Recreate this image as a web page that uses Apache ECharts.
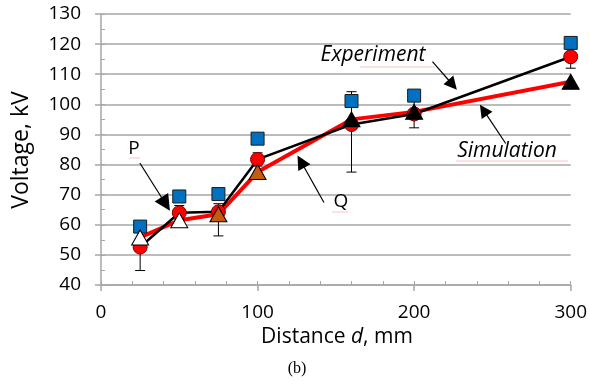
<!DOCTYPE html>
<html><head><meta charset="utf-8">
<script src="https://cdn.jsdelivr.net/npm/echarts@6/dist/echarts.min.js"></script>
<style>html,body{margin:0;padding:0;background:#fff}#c{width:590px;height:385px}</style>
</head><body><div id="c"></div>
<script>
// ---- data ----
const distances = [25, 50, 75, 100, 160, 200, 300];
const experiment = [52.6, 64.0, 64.3, 81.7, 93.3, 96.8, 115.8];
const errLow = [44.8, 61.8, 56.3, 79.5, 77.5, 92.2, 112.0];
const errHigh = [60.4, 66.4, 67.0, 83.9, 104.2, 101.0, 119.5];
const squares = [59.4, 69.4, 70.2, 88.6, 101.1, 102.9, 120.4];
const simulation = [55.8, 61.5, 63.5, 77.5, 95.0, 97.5, 107.5];
const triangleKinds = ['white', 'white', 'brown', 'brown', 'black', 'black', 'black'];
const xTickValues = [0, 100, 200, 300];
const yTickValues = [40, 50, 60, 70, 80, 90, 100, 110, 120, 130];

// ---- styles ----
const FONT = '"Open Sans", "Liberation Sans", sans-serif';
const GRIDC = '#a6a6a6';
const triColor = { white: '#ffffff', brown: '#c55a11', black: '#000000' };

const xMin = xTickValues[0], xMax = xTickValues[xTickValues.length - 1];
const yMin = yTickValues[0], yMax = yTickValues[yTickValues.length - 1];
const xStep = xTickValues[1] - xTickValues[0], yStep = yTickValues[1] - yTickValues[0];

const pts = arr => distances.map((d, i) => [d, arr[i]]);

// annotation arrows in data coordinates [start, end]
const arrows = [
  { from: [211.7, 114.2], to: [224.6, 106.5], size: 13 },
  { from: [258.5, 87.0], to: [244.3, 98.1], size: 13 },
  { from: [24.8, 80.5], to: [41.3, 66.9], size: 16 },
  { from: [142.4, 67.4], to: [127.7, 81.0], size: 14 }
];

const chart = echarts.init(document.getElementById('c'), null, { renderer: 'canvas' });

const grid = { left: 101, right: 17, top: 14, bottom: 100 };

const option = {
  animation: false,
  backgroundColor: '#ffffff',
  grid: grid,
  xAxis: [
    {
      type: 'value', min: xMin, max: xMax, interval: xStep,
      axisLine: { show: true, lineStyle: { color: GRIDC, width: 1.5 } },
      axisTick: { show: true, inside: false, length: 6, lineStyle: { color: GRIDC, width: 1.5 } },
      axisLabel: { color: '#000', fontFamily: FONT, fontSize: 19, margin: 18 },
      splitLine: { show: false }
    },
    {
      type: 'value', min: xMin, max: xMax, interval: 20, position: 'bottom',
      axisLine: { show: false },
      axisTick: { show: true, inside: true, length: 4, lineStyle: { color: GRIDC, width: 1 } },
      axisLabel: { show: false },
      splitLine: { show: false }
    }
  ],
  yAxis: [
    {
      type: 'value', min: yMin, max: yMax, interval: yStep,
      axisLine: { show: true, lineStyle: { color: GRIDC, width: 1.5 } },
      axisTick: { show: true, inside: false, length: 6, lineStyle: { color: GRIDC, width: 1.5 } },
      axisLabel: { color: '#000', fontFamily: FONT, fontSize: 19, margin: 20 },
      splitLine: { show: true, lineStyle: { color: GRIDC, width: 1.5 } }
    },
    {
      type: 'value', min: yMin, max: yMax, interval: 5, position: 'left',
      axisLine: { show: false },
      axisTick: { show: true, inside: true, length: 4, lineStyle: { color: GRIDC, width: 1 } },
      axisLabel: { show: false },
      splitLine: { show: false }
    }
  ],
  series: [
    {
      name: 'Simulation line', type: 'line', data: pts(simulation), z: 2,
      showSymbol: false, lineStyle: { color: '#ff0000', width: 4 }, silent: true
    },
    {
      name: 'Experiment line', type: 'line', data: pts(experiment), z: 3,
      showSymbol: false, lineStyle: { color: '#000000', width: 2.5 }, silent: true,
      markLine: {
        silent: true, symbol: ['none', 'triangle'],
        lineStyle: { color: '#000', width: 1.2, type: 'solid' },
        label: { show: false },
        data: arrows.map(a => [
          { coord: a.from, symbolSize: a.size },
          { coord: a.to, symbolSize: a.size, itemStyle: { color: '#000' } }
        ])
      }
    },
    {
      name: 'Error bars', type: 'custom', z: 4, silent: true,
      data: distances.map((d, i) => [d, errLow[i], errHigh[i]]),
      renderItem: function (params, api) {
        const lo = api.coord([api.value(0), api.value(1)]);
        const hi = api.coord([api.value(0), api.value(2)]);
        const hw = 5;
        const st = { stroke: '#000', lineWidth: 1 };
        return {
          type: 'group',
          children: [
            { type: 'line', shape: { x1: lo[0], y1: lo[1], x2: hi[0], y2: hi[1] }, style: st },
            { type: 'line', shape: { x1: lo[0] - hw, y1: lo[1], x2: lo[0] + hw, y2: lo[1] }, style: st },
            { type: 'line', shape: { x1: hi[0] - hw, y1: hi[1], x2: hi[0] + hw, y2: hi[1] }, style: st }
          ]
        };
      }
    },
    {
      name: 'Experiment points', type: 'scatter', data: pts(experiment), z: 5,
      symbol: 'circle', symbolSize: 14,
      itemStyle: { color: '#ff0000', borderColor: '#7a0000', borderWidth: 1, opacity: 1 }
    },
    {
      name: 'Squares', type: 'scatter', data: pts(squares), z: 6,
      symbol: 'rect', symbolSize: 13,
      itemStyle: { color: '#0070c0', borderColor: '#1a1a1a', borderWidth: 1, opacity: 1 }
    },
    {
      name: 'Simulation points', type: 'scatter', z: 7,
      data: distances.map((d, i) => ({
        value: [d, simulation[i]],
        itemStyle: { color: triColor[triangleKinds[i]] }
      })),
      symbol: 'triangle', symbolSize: [17, 15],
      itemStyle: { borderColor: '#000', borderWidth: 1, opacity: 1 }
    }
  ],
  graphic: [
    { type: 'text', rotation: Math.PI / 2, x: 21, y: 150,
      style: { text: 'Voltage, kV', font: '23px ' + FONT, fill: '#000', align: 'center', verticalAlign: 'middle', textAlign: 'center', textVerticalAlign: 'middle' } },
    { type: 'text', x: 337, y: 337,
      style: {
        text: '{n|Distance }{i|d}{n|, mm}', align: 'center', verticalAlign: 'middle', textAlign: 'center', textVerticalAlign: 'middle',
        rich: {
          n: { font: '21px ' + FONT, fill: '#000' },
          i: { font: 'italic 21px ' + FONT, fill: '#000' }
        }
      } },
    { type: 'text', x: 297, y: 369,
      style: { text: '(b)', font: '16px "Liberation Serif", "Times New Roman", serif', fill: '#000', align: 'center', verticalAlign: 'middle', textAlign: 'center', textVerticalAlign: 'middle' } },
    { type: 'text', x: 373, y: 55, z: 10,
      style: { text: 'Experiment', font: 'italic 21px ' + FONT, fill: '#000', align: 'center', verticalAlign: 'middle', textAlign: 'center', textVerticalAlign: 'middle' } },
    { type: 'text', x: 507, y: 151, z: 10,
      style: { text: 'Simulation', font: 'italic 21px ' + FONT, fill: '#000', align: 'center', verticalAlign: 'middle', textAlign: 'center', textVerticalAlign: 'middle' } },
    { type: 'text', x: 134, y: 149, z: 10,
      style: { text: 'P', font: '19px ' + FONT, fill: '#000', align: 'center', verticalAlign: 'middle', textAlign: 'center', textVerticalAlign: 'middle' } },
    { type: 'text', x: 341, y: 202, z: 10,
      style: { text: 'Q', font: '19px ' + FONT, fill: '#000', align: 'center', verticalAlign: 'middle', textAlign: 'center', textVerticalAlign: 'middle' } },
    { type: 'line', shape: { x1: 360, y1: 67, x2: 435, y2: 67 }, style: { stroke: '#f8c4c4', lineWidth: 1 } },
    { type: 'line', shape: { x1: 456, y1: 161, x2: 568, y2: 161 }, style: { stroke: '#f8c4c4', lineWidth: 1 } },
    { type: 'line', shape: { x1: 129, y1: 158, x2: 140, y2: 158 }, style: { stroke: '#f8c4c4', lineWidth: 1 } },
    { type: 'line', shape: { x1: 332, y1: 212, x2: 348, y2: 212 }, style: { stroke: '#f8c4c4', lineWidth: 1 } }
  ]
};
chart.setOption(option);
</script>
</body></html>
